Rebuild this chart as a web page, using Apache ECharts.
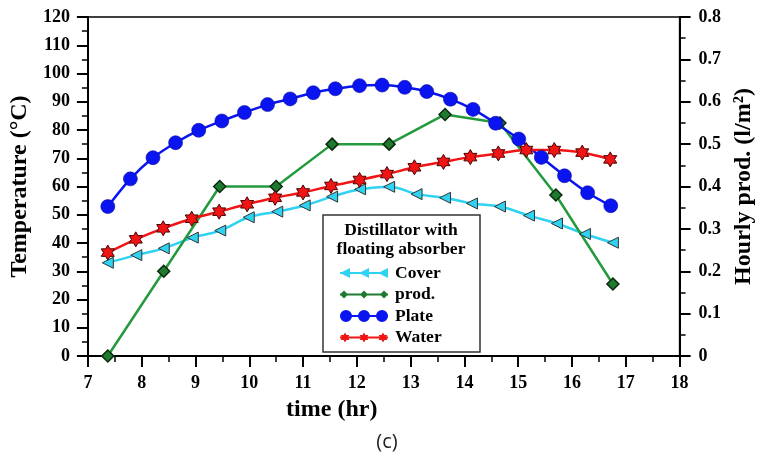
<!DOCTYPE html>
<html>
<head>
<meta charset="utf-8">
<script src="https://cdn.jsdelivr.net/npm/echarts@6/dist/echarts.min.js"></script>
<style>html,body{margin:0;padding:0;background:#fff}#c{width:764px;height:455px}</style>
</head>
<body>
<div id="c"></div>
<script>
// ---- data ----
var plateX = [7.37, 7.79, 8.21, 8.63, 9.06, 9.49, 9.91, 10.34, 10.76, 11.19, 11.60, 12.05, 12.47, 12.89, 13.30, 13.74, 14.16, 14.58, 15.01, 15.43, 15.86, 16.29, 16.72];
var plateY = [52.9, 62.7, 70.2, 75.5, 79.9, 83.2, 86.2, 89.0, 91.0, 93.2, 94.6, 95.7, 95.9, 95.1, 93.6, 90.9, 87.3, 82.4, 76.8, 70.3, 63.8, 57.8, 53.2];

var waterX = [7.37, 7.89, 8.40, 8.93, 9.44, 9.96, 10.48, 11.00, 11.52, 12.05, 12.56, 13.07, 13.61, 14.11, 14.63, 15.15, 15.67, 16.19, 16.71];
var waterY = [36.6, 41.3, 45.2, 48.6, 51.1, 53.7, 56.0, 57.9, 60.2, 62.3, 64.4, 66.8, 68.7, 70.4, 71.7, 72.9, 72.9, 72.0, 69.6];

var coverX = [7.37, 7.90, 8.41, 8.95, 9.46, 9.99, 10.52, 11.03, 11.54, 12.06, 12.60, 13.11, 13.64, 14.14, 14.66, 15.20, 15.72, 16.24, 16.76];
var coverY = [33.0, 35.7, 38.1, 41.9, 44.4, 49.1, 51.1, 53.3, 56.4, 59.0, 59.9, 57.3, 56.0, 54.0, 52.9, 49.7, 46.9, 43.2, 40.1];

var prodX = [7.37, 8.41, 9.45, 10.50, 11.54, 12.60, 13.64, 14.66, 15.70, 16.76];
var prodY = [0, 0.20, 0.40, 0.40, 0.50, 0.50, 0.57, 0.55, 0.38, 0.17];

var seriesNames = ['Cover', 'prod.', 'Plate', 'Water'];
var legendTitle = 'Distillator with\nfloating absorber';
var xTitle = 'time (hr)';
var yLeftTitle = 'Temperature (°C)';
var yRightTitle = 'Hourly prod. (l/m²)';
var caption = '(c)';

function pairs(xs, ys) { return xs.map(function (x, i) { return [x, ys[i]]; }); }

var SERIF = '"Liberation Serif", "Times New Roman", serif';
var starPath = 'path://M0,-100 L28.9,-50 L86.6,-50 L57.7,0 L86.6,50 L28.9,50 L0,100 L-28.9,50 L-86.6,50 L-57.7,0 L-86.6,-50 L-28.9,-50 Z';

function starAt(cx) {
  var pts = [[0,-5],[1.44,-2.5],[4.33,-2.5],[2.89,0],[4.33,2.5],[1.44,2.5],[0,5],[-1.44,2.5],[-4.33,2.5],[-2.89,0],[-4.33,-2.5],[-1.44,-2.5]];
  return 'M' + pts.map(function (p) { return (cx + p[0]).toFixed(2) + ',' + (6 + p[1]).toFixed(2); }).join(' L') + ' Z ';
}
var lineRect = 'M0,5 L48,5 L48,7 L0,7 Z ';
var iconCover = 'path://' + lineRect + 'M0,6 L10,1 L10,11 Z M19,6 L29,1 L29,11 Z M38,6 L48,1 L48,11 Z';
var iconProd = 'path://' + lineRect + 'M0,6 L4,2 L8,6 L4,10 Z M20,6 L24,2 L28,6 L24,10 Z M40,6 L44,2 L48,6 L44,10 Z';
var iconPlate = 'path://' + lineRect + 'M0,6 A6,6 0 1,1 12,6 A6,6 0 1,1 0,6 Z M18,6 A6,6 0 1,1 30,6 A6,6 0 1,1 18,6 Z M36,6 A6,6 0 1,1 48,6 A6,6 0 1,1 36,6 Z';
var iconWater = 'path://' + lineRect + starAt(5) + starAt(24) + starAt(43);

var axisFont = { fontFamily: SERIF, fontWeight: 'bold', fontSize: 18, color: '#000' };
var titleFont = { fontFamily: SERIF, fontWeight: 'bold', fontSize: 24, color: '#000' };

var chart = echarts.init(document.getElementById('c'), null, { renderer: 'canvas' });
chart.setOption({
  animation: false,
  backgroundColor: '#fff',
  grid: { left: 87, right: 78, top: 17, bottom: 99, show: true, borderColor: '#000', borderWidth: 1.5, backgroundColor: 'transparent' },
  xAxis: {
    type: 'value', min: 7, max: 18, interval: 1,
    axisLine: { lineStyle: { color: '#000', width: 2 } },
    axisTick: { length: 11, lineStyle: { color: '#000', width: 2 } },
    minorTick: { show: true, splitNumber: 2, length: 6, lineStyle: { color: '#000', width: 1.5 } },
    splitLine: { show: false },
    axisLabel: Object.assign({ margin: 18 }, axisFont),
    name: xTitle, nameLocation: 'middle', nameGap: 42,
    nameTextStyle: Object.assign({ padding: [0, 104, 0, 0] }, titleFont)
  },
  yAxis: [{
    type: 'value', min: 0, max: 120, interval: 10, position: 'left',
    axisLine: { show: true, lineStyle: { color: '#000', width: 2 } },
    axisTick: { show: true, length: 11, lineStyle: { color: '#000', width: 2 } },
    minorTick: { show: true, splitNumber: 2, length: 6, lineStyle: { color: '#000', width: 1.5 } },
    splitLine: { show: false },
    axisLabel: Object.assign({ margin: 18 }, axisFont),
    name: yLeftTitle, nameLocation: 'middle', nameRotate: 90, nameGap: 52,
    nameTextStyle: titleFont
  }, {
    type: 'value', min: 0, max: 0.8, interval: 0.1, position: 'right',
    axisLine: { show: true, lineStyle: { color: '#000', width: 2 } },
    axisTick: { show: true, length: 11, lineStyle: { color: '#000', width: 2 } },
    minorTick: { show: true, splitNumber: 2, length: 6, lineStyle: { color: '#000', width: 1.5 } },
    splitLine: { show: false },
    axisLabel: Object.assign({ margin: 19, formatter: function (v) { return v === 0 ? '0' : v.toFixed(1); } }, axisFont),
    name: yRightTitle, nameLocation: 'middle', nameRotate: 90, nameGap: 50,
    nameTextStyle: titleFont
  }],
  legend: {
    orient: 'vertical', left: 335, top: 259,
    itemWidth: 48, itemHeight: 12, itemGap: 3.5,
    itemStyle: { borderWidth: 0 },
    textStyle: { fontFamily: SERIF, fontWeight: 'bold', fontSize: 17.5, color: '#000', lineHeight: 18, padding: [0, 0, 0, 2] },
    data: [
      { name: seriesNames[0], icon: iconCover },
      { name: seriesNames[1], icon: iconProd },
      { name: seriesNames[2], icon: iconPlate },
      { name: seriesNames[3], icon: iconWater }
    ]
  },
  graphic: [
    { type: 'rect', z: 1, shape: { x: 323, y: 215, width: 157, height: 137 }, style: { fill: '#fff', stroke: '#333', lineWidth: 1.5 } },
    { type: 'text', z: 5, x: 401, y: 221, style: { text: legendTitle, fontFamily: SERIF, fontWeight: 'bold', fontSize: 17.5, lineHeight: 19, fill: '#000', textAlign: 'center', textVerticalAlign: 'top' } },
    { type: 'text', z: 5, x: 387, y: 442, style: { text: caption, fontFamily: '"Open Sans", sans-serif', fontSize: 20, fill: '#222', textAlign: 'center', textVerticalAlign: 'middle' } }
  ],
  series: [{
    name: seriesNames[0], type: 'line', yAxisIndex: 0, data: pairs(coverX, coverY),
    smooth: 0.4, symbol: 'triangle', symbolRotate: 90, symbolSize: [11, 11],
    itemStyle: { color: '#2fd2f0', borderColor: '#333', borderWidth: 1 },
    lineStyle: { color: '#2fd2f0', width: 2.5 }
  }, {
    name: seriesNames[1], type: 'line', yAxisIndex: 1, data: pairs(prodX, prodY),
    symbol: 'diamond', symbolSize: 12,
    itemStyle: { color: '#1f7a30', borderColor: '#0a2a0e', borderWidth: 1.5 },
    lineStyle: { color: '#239a3c', width: 2.5 }
  }, {
    name: seriesNames[2], type: 'line', yAxisIndex: 0, data: pairs(plateX, plateY),
    smooth: 0.3, symbol: 'circle', symbolSize: 14,
    itemStyle: { color: '#0a14f0', borderColor: '#0a0aa0', borderWidth: 0.6 },
    lineStyle: { color: '#0a14f0', width: 2.5 }
  }, {
    name: seriesNames[3], type: 'line', yAxisIndex: 0, data: pairs(waterX, waterY),
    smooth: 0.3, symbol: starPath, symbolKeepAspect: true, symbolSize: 15,
    itemStyle: { color: '#f01414', borderColor: '#4a0000', borderWidth: 1 },
    lineStyle: { color: '#f01414', width: 2.5 }
  }]
});
</script>
</body>
</html>
